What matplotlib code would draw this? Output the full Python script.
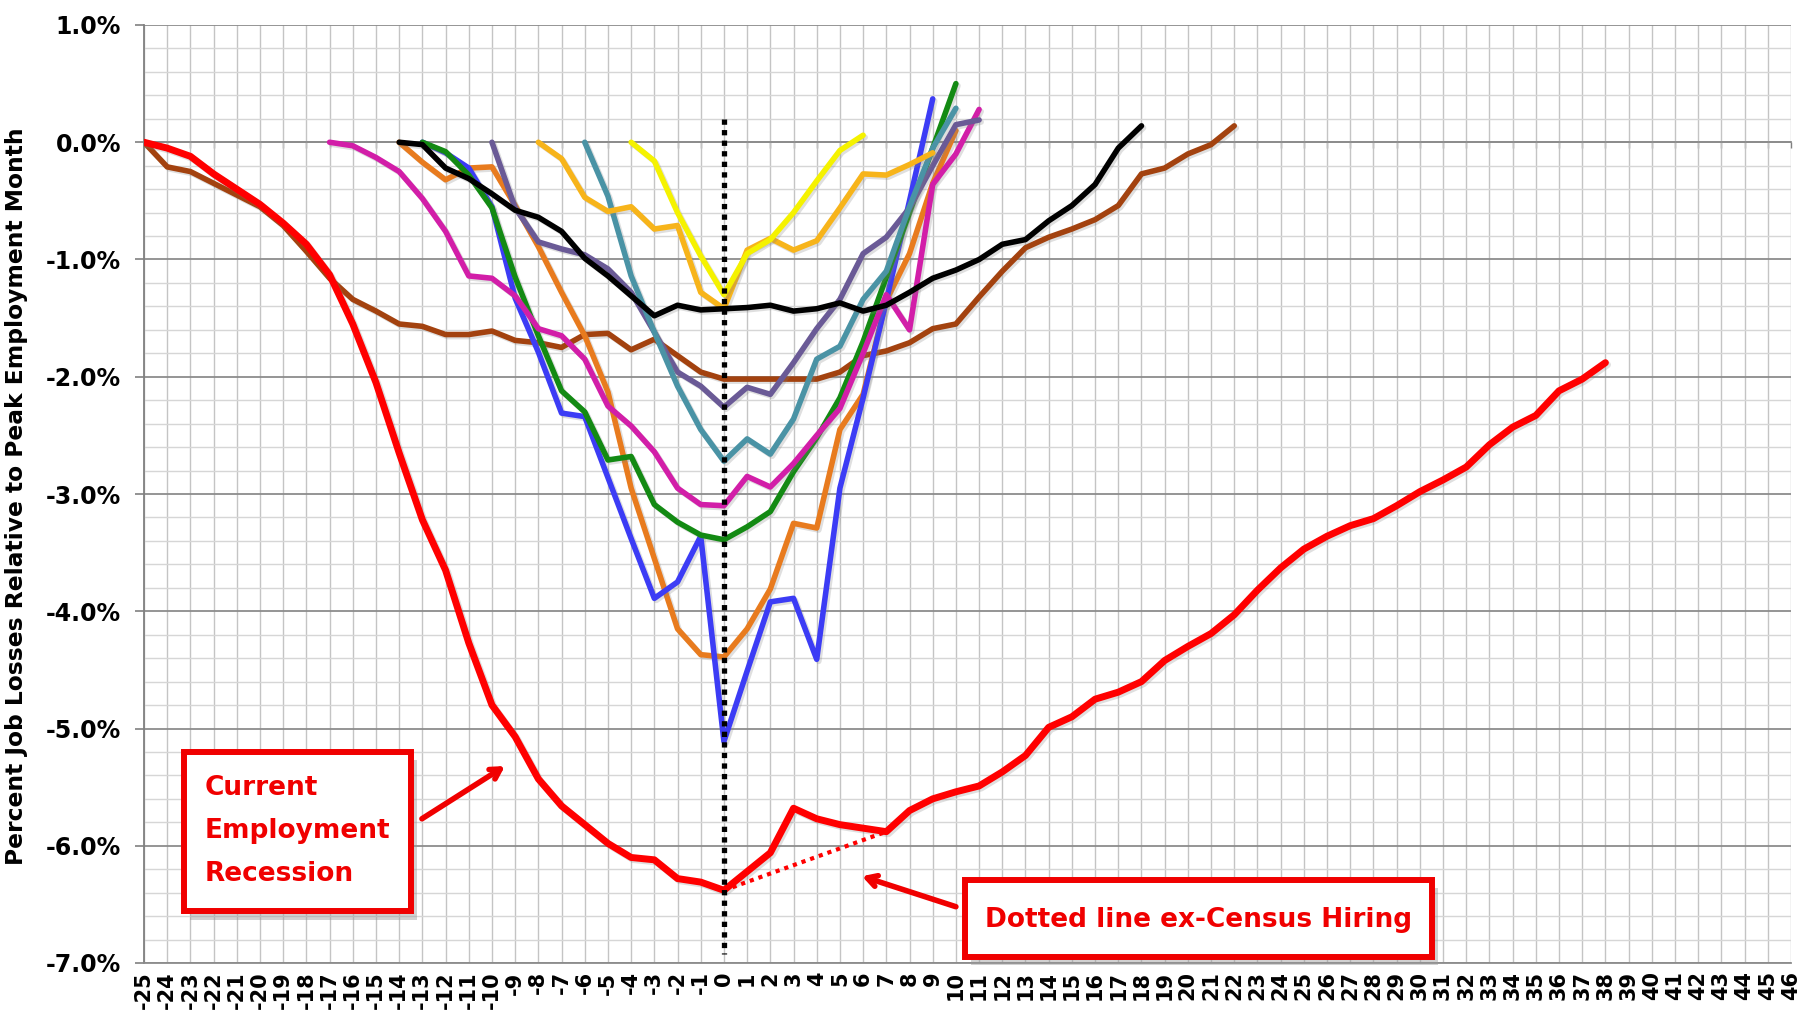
import numpy as np
import matplotlib.pyplot as plt
import matplotlib.patheffects as pe
from matplotlib.patches import Rectangle
from matplotlib.ticker import FuncFormatter, MultipleLocator

plt.rcParams['font.family'] = ['DejaVu Sans']
plt.rcParams['font.weight'] = 'bold'

# month axis (0 = trough month)
months = list(range(-25, 47))

# percent job losses relative to peak, each series: start month + monthly values
red_start = -25
red_vals = [0.0, -0.05, -0.12, -0.27, -0.40, -0.53, -0.69, -0.87, -1.13, -1.55,
            -2.05, -2.65, -3.22, -3.65, -4.27, -4.80, -5.07, -5.43, -5.66, -5.82,
            -5.98, -6.10, -6.12, -6.28, -6.31, -6.38, -6.22, -6.06, -5.68, -5.77,
            -5.82, -5.85, -5.88, -5.70, -5.60, -5.54, -5.49, -5.37, -5.23, -4.99,
            -4.90, -4.75, -4.69, -4.60, -4.42, -4.30, -4.19, -4.03, -3.82, -3.63,
            -3.47, -3.36, -3.27, -3.21, -3.10, -2.98, -2.88, -2.77, -2.58, -2.43,
            -2.33, -2.12, -2.02, -1.88]

# ex-Census hiring
census_months = [0, 7]
census_vals = [-6.38, -5.88]

brown_start = -25
brown_vals = [0.0, -0.21, -0.25, -0.35, -0.45, -0.55, -0.71, -0.93, -1.16, -1.34,
              -1.44, -1.55, -1.57, -1.64, -1.64, -1.61, -1.69, -1.71, -1.75, -1.64,
              -1.63, -1.77, -1.68, -1.82, -1.96, -2.02, -2.02, -2.02, -2.02, -2.02,
              -1.96, -1.82, -1.78, -1.71, -1.59, -1.55, -1.32, -1.10, -0.90, -0.81,
              -0.74, -0.66, -0.54, -0.27, -0.22, -0.10, -0.02, 0.14]

black_start = -14
black_vals = [0.0, -0.02, -0.22, -0.31, -0.44, -0.58, -0.64, -0.76, -0.99, -1.14,
              -1.31, -1.48, -1.39, -1.43, -1.42, -1.41, -1.39, -1.44, -1.42, -1.37,
              -1.44, -1.39, -1.28, -1.16, -1.09, -1.00, -0.87, -0.83, -0.67, -0.54,
              -0.36, -0.05, 0.14]

magenta_start = -17
magenta_vals = [0.0, -0.03, -0.13, -0.25, -0.48, -0.76, -1.14, -1.16, -1.31, -1.59,
                -1.65, -1.85, -2.25, -2.42, -2.64, -2.95, -3.09, -3.10, -2.85, -2.94,
                -2.74, -2.50, -2.27, -1.80, -1.30, -1.60, -0.36, -0.10, 0.28]

orange_start = -14
orange_vals = [0.0, -0.17, -0.32, -0.22, -0.21, -0.54, -0.89, -1.28, -1.65, -2.13,
               -2.95, -3.55, -4.15, -4.37, -4.39, -4.15, -3.81, -3.25, -3.29, -2.45,
               -2.15, -1.35, -0.95, -0.35, 0.10]

green_start = -13
green_vals = [0.0, -0.08, -0.28, -0.56, -1.15, -1.65, -2.12, -2.30, -2.71, -2.68,
              -3.09, -3.24, -3.35, -3.39, -3.28, -3.15, -2.81, -2.52, -2.18, -1.70,
              -1.15, -0.60, -0.05, 0.50]

blue_start = -13
blue_vals = [0.0, -0.09, -0.22, -0.55, -1.33, -1.79, -2.31, -2.34, -2.86, -3.38,
             -3.89, -3.75, -3.36, -5.11, -4.51, -3.92, -3.89, -4.41, -2.95, -2.18,
             -1.35, -0.50, 0.37]

purple_start = -10
purple_vals = [0.0, -0.56, -0.85, -0.91, -0.96, -1.08, -1.28, -1.62, -1.96, -2.08,
               -2.26, -2.09, -2.15, -1.88, -1.59, -1.34, -0.95, -0.81, -0.56, -0.20,
               0.15, 0.19]

gold_start = -8
gold_vals = [0.0, -0.14, -0.47, -0.59, -0.55, -0.74, -0.71, -1.28, -1.42, -0.92,
             -0.82, -0.92, -0.84, -0.56, -0.27, -0.28, -0.19, -0.09]

teal_start = -6
teal_vals = [0.0, -0.46, -1.14, -1.62, -2.08, -2.45, -2.72, -2.53, -2.66, -2.36,
             -1.85, -1.74, -1.34, -1.10, -0.55, -0.05, 0.29]

yellow_start = -4
yellow_vals = [0.0, -0.16, -0.60, -0.97, -1.30, -0.95, -0.83, -0.60, -0.33, -0.07, 0.06]


fig = plt.figure(figsize=(18.06, 10.10), dpi=100)
ax = fig.add_axes([144 / 1806, 1 - 963 / 1010, (1791 - 144) / 1806, (963 - 25) / 1010])

shadow = [pe.SimpleLineShadow(offset=(1.5, -1.5), alpha=0.25, shadow_color='gray'), pe.Normal()]


def draw(start, vals, color, lw=4.0):
    x = np.arange(start, start + len(vals))
    ax.plot(x, vals, color=color, lw=lw, solid_joinstyle='round', solid_capstyle='round',
            path_effects=shadow, zorder=3)


draw(brown_start, brown_vals, '#a3420f')
draw(orange_start, orange_vals, '#e87b1e')
draw(blue_start, blue_vals, '#3c3cf5')
draw(green_start, green_vals, '#138a13')
draw(magenta_start, magenta_vals, '#d21ea8')
draw(purple_start, purple_vals, '#6a5a96')
draw(teal_start, teal_vals, '#4a93a5')
draw(gold_start, gold_vals, '#f7b41a')
draw(black_start, black_vals, '#000000')
draw(yellow_start, yellow_vals, '#f5f200')
draw(red_start, red_vals, '#ff0000', lw=5.0)
ax.plot(census_months, census_vals, color='#ff0000', lw=3, linestyle=(0, (1, 1.2)), zorder=3)

# trough marker
ax.plot([0, 0], [0.2, -6.92], color='black', lw=3.8, linestyle=(0, (1, 1)), zorder=4,
        clip_on=False)

ax.set_xlim(-25, 46)
ax.set_ylim(-7, 1)

# grid
ax.set_xticks(months)
ax.set_xticklabels([str(m) for m in months], rotation=90, fontsize=15, fontweight='bold',
                   va='top')
ax.yaxis.set_major_locator(MultipleLocator(1))
ax.yaxis.set_minor_locator(MultipleLocator(0.2))
ax.yaxis.set_major_formatter(FuncFormatter(lambda v, p: f"{v + 0.0:.1f}%"))
ax.tick_params(axis='y', which='major', labelsize=17, length=6.5, width=1.2,
               color='#808080', pad=10)
ax.tick_params(axis='y', which='minor', length=0)
ax.tick_params(axis='x', length=0, pad=6)
ax.grid(axis='x', which='major', color='#c4c4c4', lw=1.0)
ax.grid(axis='y', which='minor', color='#d6d6d6', lw=1.0)
ax.grid(axis='y', which='major', color='#8c8c8c', lw=1.3)
ax.set_axisbelow(True)
for s in ['top', 'right']:
    ax.spines[s].set_visible(False)
ax.spines['left'].set_color('#808080')
ax.spines['left'].set_linewidth(1.3)
ax.spines['bottom'].set_color('#8c8c8c')
ax.spines['bottom'].set_linewidth(1.3)

# category axis crossing at 0%
sec = ax.secondary_xaxis(0, transform=ax.transData)
sec.set_xticks(months, labels=[])
sec.tick_params(direction='out', length=4, width=1, color='#808080')
sec.spines['bottom'].set_color('#8c8c8c')
sec.spines['bottom'].set_linewidth(1.3)

fig.text(17 / 1806, 1 - 496 / 1010, 'Percent Job Losses Relative to Peak Employment Month',
         rotation=90, ha='center', va='center', fontsize=16.8, fontweight='bold')

# annotation boxes
red = '#f00000'


def box(x0, y0, x1, y1):
    ax.add_patch(Rectangle((x0 + 0.25, y0 - 0.07), x1 - x0, y1 - y0, facecolor='#9a9a9a',
                           edgecolor='none', alpha=0.45, zorder=5, clip_on=False))
    ax.add_patch(Rectangle((x0, y0), x1 - x0, y1 - y0, facecolor='white', edgecolor=red,
                           lw=4.3, zorder=6, clip_on=False))


box(-23.28, -6.56, -13.49, -5.20)
ax.text(-22.4, -5.87, 'Current\nEmployment\nRecession', color=red, fontsize=19,
        fontweight='bold', ha='left', va='center', linespacing=1.85, zorder=7)

box(10.39, -6.95, 30.52, -6.29)
ax.text(20.45, -6.63, 'Dotted line ex-Census Hiring', color=red, fontsize=19,
        fontweight='bold', ha='center', va='center', zorder=7)

arrow = dict(arrowstyle='->,head_length=0.7,head_width=0.4', color=red, lw=4,
             shrinkA=0, shrinkB=0)
ax.annotate('', xy=(-9.44, -5.32), xytext=(-13.02, -5.77), arrowprops=arrow, zorder=7)
ax.annotate('', xy=(5.95, -6.26), xytext=(10.0, -6.52), arrowprops=arrow, zorder=7)

fig.savefig('out.png', dpi=100)
